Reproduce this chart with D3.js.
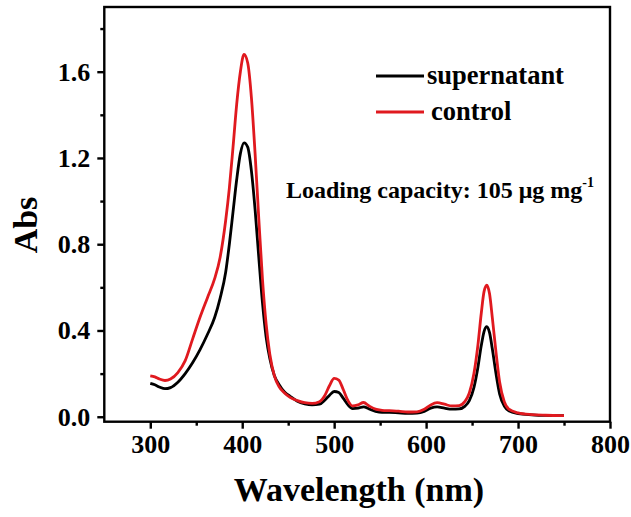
<!DOCTYPE html>
<html>
<head>
<meta charset="utf-8">
<script src="https://cdn.jsdelivr.net/npm/d3@7"></script>
<style>
  body { margin: 0; background: #fff; }
  text { font-family: "Liberation Serif", "Times New Roman", serif; font-weight: bold; fill: #000; }
</style>
</head>
<body>
<div id="container"></div>
<script>
// Data
const wavelength = [300, 305, 310, 316, 322, 330, 338, 346, 354, 362, 370, 376, 382, 386, 390, 394, 398, 402, 406, 410, 414, 418, 422, 426, 430, 435, 440, 446, 452, 460, 468, 476, 484, 490, 495, 500, 505, 510, 515, 520, 526, 532, 538, 545, 552, 560, 570, 580, 590, 598, 605, 612, 620, 628, 636, 642, 647, 652, 656, 660, 663, 666, 669, 672, 676, 680, 685, 690, 700, 715, 730, 750];

const supernatant = [0.155, 0.148, 0.138, 0.13, 0.135, 0.16, 0.2, 0.25, 0.31, 0.38, 0.46, 0.55, 0.67, 0.8, 0.95, 1.1, 1.22, 1.27, 1.25, 1.14, 0.96, 0.74, 0.53, 0.37, 0.27, 0.19, 0.15, 0.115, 0.095, 0.072, 0.06, 0.055, 0.058, 0.078, 0.1, 0.117, 0.112, 0.085, 0.055, 0.038, 0.04, 0.046, 0.036, 0.025, 0.02, 0.02, 0.018, 0.016, 0.017, 0.025, 0.04, 0.046, 0.04, 0.035, 0.036, 0.048, 0.075, 0.135, 0.22, 0.33, 0.395, 0.418, 0.39, 0.315, 0.2, 0.105, 0.05, 0.028, 0.015, 0.009, 0.006, 0.005];

const control = [0.19, 0.185, 0.175, 0.168, 0.175, 0.205, 0.26, 0.36, 0.46, 0.55, 0.64, 0.74, 0.91, 1.06, 1.25, 1.45, 1.6, 1.68, 1.64, 1.48, 1.22, 0.92, 0.64, 0.43, 0.29, 0.19, 0.14, 0.11, 0.09, 0.075, 0.065, 0.062, 0.07, 0.1, 0.145, 0.178, 0.17, 0.125, 0.075, 0.05, 0.055, 0.066, 0.05, 0.035, 0.03, 0.028, 0.026, 0.022, 0.023, 0.035, 0.055, 0.065, 0.058, 0.05, 0.052, 0.07, 0.11, 0.2, 0.32, 0.48, 0.58, 0.61, 0.57, 0.46, 0.3, 0.16, 0.07, 0.035, 0.018, 0.01, 0.007, 0.005];

const xTicks = [300, 400, 500, 600, 700, 800];
const yTicks = [0.0, 0.4, 0.8, 1.2, 1.6];
const seriesNames = ["supernatant", "control"];
const seriesColors = ["#000000", "#e0191f"];

// Constants
const width = 631;
const height = 517;
const plotLeft = 104.3, plotRight = 610, plotTop = 7, plotBottom = 421.7;

const xScale = d3.scaleLinear().domain([250, 800]).range([plotLeft, plotRight]);
const yScale = d3.scaleLinear().domain([-0.023, 1.9]).range([plotBottom, plotTop]);

const svg = d3
  .select("#container")
  .append("svg")
  .attr("width", width)
  .attr("height", height);

// Curves
const line = d3
  .line()
  .x((d) => xScale(d[0]))
  .y((d) => yScale(d[1]))
  .curve(d3.curveMonotoneX);

[supernatant, control].forEach((vals, i) => {
  svg
    .append("path")
    .datum(wavelength.map((w, j) => [w, vals[j]]))
    .attr("d", line)
    .attr("fill", "none")
    .attr("stroke", seriesColors[i])
    .attr("stroke-width", 2.8)
    .attr("stroke-linejoin", "round");
});

// Frame
svg
  .append("rect")
  .attr("x", plotLeft)
  .attr("y", plotTop)
  .attr("width", plotRight - plotLeft)
  .attr("height", plotBottom - plotTop)
  .attr("fill", "none")
  .attr("stroke", "#000")
  .attr("stroke-width", 2.4);

// Axes
const xAxis = d3.axisBottom(xScale).tickValues(xTicks).tickSize(7).tickSizeOuter(0).tickPadding(6);
const xMinor = d3.axisBottom(xScale).tickValues([350, 450, 550, 650, 750]).tickSize(4).tickSizeOuter(0).tickFormat("");
const yAxis = d3.axisLeft(yScale).tickValues(yTicks).tickSize(7).tickSizeOuter(0).tickPadding(7).tickFormat(d3.format(".1f"));
const yMinor = d3.axisLeft(yScale).tickValues([0.2, 0.6, 1.0, 1.4, 1.8]).tickSize(4).tickSizeOuter(0).tickFormat("");

const styleAxis = (g) => {
  g.select(".domain").remove();
  g.selectAll("line").attr("stroke", "#000").attr("stroke-width", 2.4);
  g.selectAll("text").attr("font-size", 26).attr("font-family", null).attr("fill", "#000");
};

svg.append("g").attr("transform", `translate(0,${plotBottom})`).call(xAxis).call(styleAxis);
svg.append("g").attr("transform", `translate(0,${plotBottom})`).call(xMinor).call(styleAxis);
svg.append("g").attr("transform", `translate(${plotLeft},0)`).call(yAxis).call(styleAxis);
svg.append("g").attr("transform", `translate(${plotLeft},0)`).call(yMinor).call(styleAxis);

// Axis titles
svg
  .append("text")
  .attr("x", 359)
  .attr("y", 501)
  .attr("text-anchor", "middle")
  .attr("font-size", 34)
  .text("Wavelength (nm)");

svg
  .append("text")
  .attr("transform", "translate(37,225) rotate(-90)")
  .attr("text-anchor", "middle")
  .attr("font-size", 34)
  .text("Abs");

// Legend
const legend = svg.append("g").attr("id", "legend");
const legendY = [76, 112];
seriesNames.forEach((name, i) => {
  legend
    .append("line")
    .attr("x1", 376)
    .attr("x2", 424)
    .attr("y1", legendY[i])
    .attr("y2", legendY[i])
    .attr("stroke", seriesColors[i])
    .attr("stroke-width", 2.8);
  legend
    .append("text")
    .attr("x", i === 0 ? 427 : 431)
    .attr("y", legendY[i] + 8)
    .attr("font-size", 26.5)
    .text(name);
});

// Annotation
const note = svg.append("text").attr("x", 286).attr("y", 198).attr("font-size", 24);
note.append("tspan").text("Loading capacity: 105 μg mg");
note.append("tspan").attr("font-size", 14).attr("dy", -11).text("-1");
</script>
</body>
</html>
